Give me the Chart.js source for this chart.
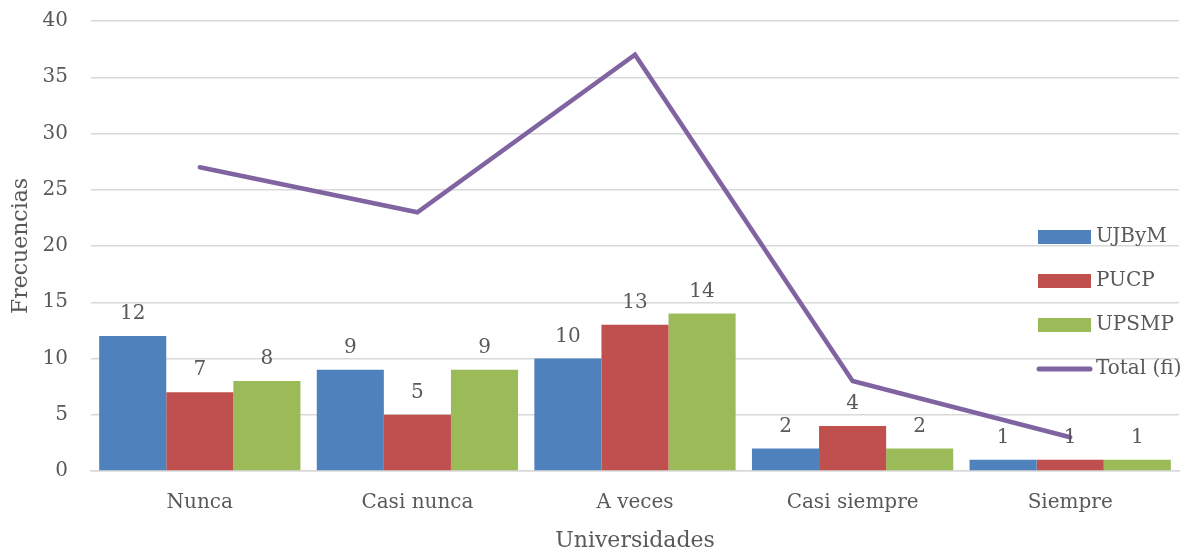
<!DOCTYPE html>
<html>
<head>
<meta charset="utf-8">
<script src="https://cdn.jsdelivr.net/npm/chart.js@4/dist/chart.umd.min.js"></script>
<style>
  html, body { margin: 0; padding: 0; background: #fff; }
  #wrap { width: 1194px; height: 554px; position: relative; }
</style>
</head>
<body>
<div id="wrap"><canvas id="c" width="1194" height="554"></canvas></div>
<script>
const categories = ['Nunca', 'Casi nunca', 'A veces', 'Casi siempre', 'Siempre'];
const ujbym  = [12, 9, 10, 2, 1];
const pucp   = [7, 5, 13, 4, 1];
const upsmp  = [8, 9, 14, 2, 1];
const total  = [27, 23, 37, 8, 3];
const yTicks = [0, 5, 10, 15, 20, 25, 30, 35, 40];

const FONT = "'DejaVu Serif', serif";
const GREY = '#595959';

// value labels above each bar
const barLabels = {
  id: 'barLabels',
  afterDatasetsDraw(chart) {
    const ctx = chart.ctx;
    ctx.save();
    ctx.font = '20px ' + FONT;
    ctx.fillStyle = GREY;
    ctx.textAlign = 'center';
    ctx.textBaseline = 'middle';
    chart.data.datasets.forEach((ds, i) => {
      if (ds.type !== 'bar') return;
      chart.getDatasetMeta(i).data.forEach((el, j) => {
        ctx.fillText(String(ds.data[j]), el.x, el.y - 22);
      });
    });
    ctx.restore();
  }
};

// legend drawn inside the plot area on the right
const sideLegend = {
  id: 'sideLegend',
  afterDraw(chart) {
    const ctx = chart.ctx;
    ctx.save();
    ctx.font = '20px ' + FONT;
    ctx.textBaseline = 'middle';
    ctx.textAlign = 'left';
    chart.data.datasets.forEach((ds, k) => {
      const y = 237 + k * 44;
      if (ds.type === 'bar') {
        ctx.fillStyle = ds.backgroundColor;
        ctx.fillRect(1038, y - 7, 53, 14);
      } else {
        ctx.strokeStyle = ds.borderColor;
        ctx.lineWidth = 5;
        ctx.lineCap = 'round';
        ctx.beginPath();
        ctx.moveTo(1039, y);
        ctx.lineTo(1090, y);
        ctx.stroke();
      }
      ctx.fillStyle = GREY;
      ctx.fillText(ds.label, 1096, y);
    });
    ctx.restore();
  }
};

new Chart(document.getElementById('c'), {
  data: {
    labels: categories,
    datasets: [
      { type: 'bar', label: 'UJByM', data: ujbym, backgroundColor: '#4F81BD', order: 1 },
      { type: 'bar', label: 'PUCP', data: pucp, backgroundColor: '#C0504D', order: 1 },
      { type: 'bar', label: 'UPSMP', data: upsmp, backgroundColor: '#9BBB59', order: 1 },
      { type: 'line', label: 'Total (fi)', data: total, borderColor: '#8064A2', backgroundColor: '#8064A2',
        borderWidth: 4.5, pointRadius: 0, tension: 0, order: 0, borderCapStyle: 'round', borderJoinStyle: 'miter' }
    ]
  },
  options: {
    responsive: false,
    animation: false,
    layout: { padding: { top: 21, right: 15, left: 0, bottom: 0 } },
    datasets: { bar: { categoryPercentage: 0.925, barPercentage: 1.0 } },
    plugins: { legend: { display: false }, tooltip: { enabled: false } },
    scales: {
      x: {
        grid: { display: false, drawTicks: false },
        border: { display: true, color: '#d9d9d9', width: 1.5 },
        ticks: { color: GREY, font: { family: FONT, size: 20 }, padding: 20, maxRotation: 0 },
        title: { display: true, text: 'Universidades', color: GREY, font: { family: FONT, size: 22 }, padding: { top: 0, bottom: 0 } },
        afterFit(scale) { scale.height = 83; }
      },
      y: {
        min: 0, max: 40,
        afterBuildTicks(scale) { scale.ticks = yTicks.map(v => ({ value: v })); },
        grid: { color: '#d9d9d9', lineWidth: 1.5, drawTicks: true, tickLength: 20, tickColor: 'rgba(0,0,0,0)' },
        border: { display: false },
        ticks: { color: GREY, font: { family: FONT, size: 20 }, padding: 3 },
        title: { display: true, text: 'Frecuencias', color: GREY, font: { family: FONT, size: 22 }, padding: { top: 8, bottom: 0 } },
        afterFit(scale) { scale.width = 91; }
      }
    }
  },
  plugins: [barLabels, sideLegend]
});
</script>
</body>
</html>
